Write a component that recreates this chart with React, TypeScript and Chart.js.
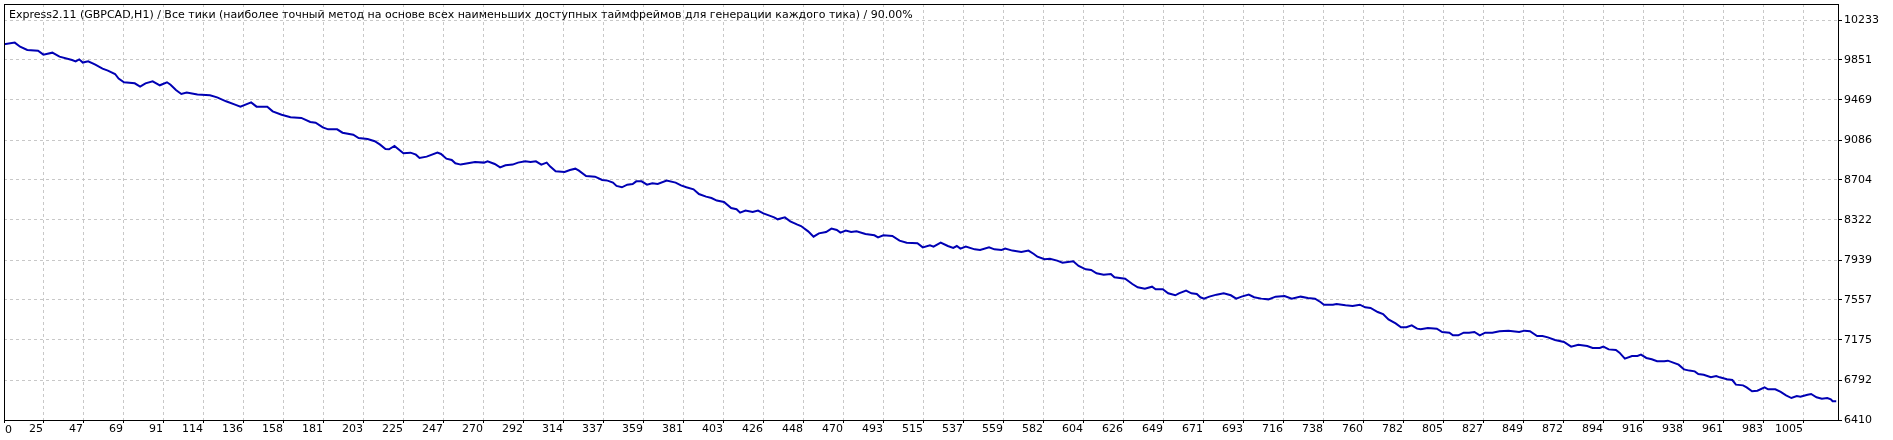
import React, { useEffect, useRef } from "react";
import { Chart, registerables } from "chart.js";

Chart.register(...registerables);

const titleText =
  "Express2.11 (GBPCAD,H1) / Все тики (наиболее точный метод на основе всех наименьших доступных таймфреймов для генерации каждого тика) / 90.00%";

const xTickLabels = [
  "0", "25", "47", "69", "91", "114", "136", "158", "181", "203", "225", "247",
  "270", "292", "314", "337", "359", "381", "403", "426", "448", "470", "493",
  "515", "537", "559", "582", "604", "626", "649", "671", "693", "716", "738",
  "760", "782", "805", "827", "849", "872", "894", "916", "938", "961", "983", "1005",
];

const yTickLabels = [
  "6410", "6792", "7175", "7557", "7939", "8322", "8704", "9086", "9469", "9851", "10233",
];

const tradeIndex = [
  0, 6, 9, 13, 19, 22, 27, 31, 38, 40, 42, 44, 47, 51, 55, 58, 62, 64, 67, 73, 76, 79,
  83, 87, 91, 93, 96, 99, 102, 108, 115, 119, 124, 129, 132, 138, 141, 147, 150, 155,
  160, 166, 171, 174, 178, 181, 186, 189, 195, 198, 203, 207, 210, 213, 215, 218, 223,
  227, 230, 232, 236, 242, 244, 247, 250, 252, 255, 259, 263, 268, 270, 274, 277, 280,
  284, 287, 291, 294, 297, 300, 303, 305, 308, 313, 316, 319, 321, 325, 330, 334, 337,
  340, 342, 345, 348, 351, 353,
  356, 359, 362, 365, 370, 375, 378, 381, 385, 388, 392, 395, 398, 402, 406, 409, 411,
  414, 418, 421, 424, 427, 430, 432, 436, 439, 443, 445, 449, 452, 455, 459, 462, 465,
  467, 470, 473, 476, 481, 486, 488, 491, 496, 500, 504, 510, 513, 517, 519, 523, 527,
  530, 532, 534, 537, 542, 545, 550, 553, 557, 559, 563, 568, 572, 575, 577, 581, 584,
  588, 591, 597, 600, 604, 607, 610, 614, 618, 620, 626, 630, 633, 637, 641, 643, 647,
  650, 654, 656, 660, 663, 666, 668, 670, 673, 677, 681, 685, 688, 691, 695, 698, 702,
  706, 710, 715, 719, 724, 728, 732, 735, 737, 742, 744, 749, 753, 757, 760, 763, 767,
  770, 773, 777, 780, 783, 786, 789, 791, 795, 800, 803, 807, 809, 812, 815, 818, 821,
  824, 827, 831, 835, 840, 846, 849, 852, 856, 859, 862, 866, 871, 875, 879, 884, 887,
  891, 893, 896, 900, 902, 905, 909, 912, 914, 917, 920, 923, 927, 929, 932, 935, 938,
  941, 944, 946, 949, 953, 956, 958, 962, 965, 967, 971, 973, 976, 979, 983, 985, 989,
  992, 995, 998, 1001, 1003, 1007, 1009, 1012, 1015, 1018, 1020, 1021, 1023,
];

const balance = [
  10000, 10017, 9978, 9947, 9940, 9902, 9921, 9883, 9851, 9838, 9857, 9826, 9838, 9806,
  9768, 9749, 9717, 9673, 9638, 9628, 9596, 9628, 9647, 9609, 9638, 9615, 9564, 9526,
  9539, 9520, 9513, 9494, 9456, 9424, 9405, 9446, 9405, 9405, 9360, 9328, 9303, 9297,
  9258, 9252, 9207, 9188, 9188, 9156, 9137, 9105, 9096, 9074, 9042, 9000, 8997, 9029,
  8959, 8965, 8946, 8914, 8927, 8965, 8953, 8908, 8895, 8863, 8851, 8863, 8876, 8870,
  8882, 8857, 8825, 8844, 8851, 8870, 8882, 8876, 8882, 8851, 8870, 8832, 8787, 8781,
  8800, 8812, 8793, 8742, 8736, 8704, 8698, 8679, 8647, 8634, 8659, 8666, 8691,
  8691, 8659, 8672, 8666, 8698, 8679, 8653, 8634, 8615, 8570, 8545, 8532, 8507, 8494,
  8436, 8424, 8392, 8411, 8398, 8411, 8385, 8366, 8347, 8328, 8347, 8309, 8277, 8264,
  8213, 8162, 8194, 8207, 8239, 8226, 8201, 8220, 8207, 8213, 8188, 8175, 8156, 8175,
  8169, 8124, 8105, 8099, 8060, 8080, 8067, 8105, 8073, 8054, 8073, 8048, 8067, 8041,
  8035, 8060, 8041, 8035, 8048, 8029, 8016, 8029, 7997, 7971, 7946, 7952, 7933, 7914,
  7927, 7882, 7850, 7844, 7812, 7799, 7806, 7774, 7761, 7710, 7678, 7665, 7684, 7659,
  7659, 7621, 7602, 7621, 7646, 7621, 7614, 7583, 7570, 7589, 7608, 7621, 7602, 7570,
  7589, 7608, 7583, 7570,
  7563, 7589, 7595, 7570, 7589, 7576, 7570, 7538, 7512, 7512, 7519, 7506, 7500, 7512,
  7487, 7481, 7442, 7423, 7372, 7334, 7296, 7296, 7315, 7283, 7277, 7289, 7283, 7251,
  7245, 7219, 7219, 7245, 7245, 7251, 7219, 7245, 7245, 7258, 7264, 7251, 7264, 7258,
  7213, 7213, 7200, 7175, 7156, 7111, 7130, 7117, 7098, 7098, 7111, 7085, 7079, 7054,
  6996, 7022, 7022, 7035, 7003, 6990, 6971, 6971, 6977, 6958, 6939, 6894, 6882, 6875,
  6850, 6843, 6818, 6831, 6818, 6799, 6792, 6748, 6741, 6722, 6684, 6690, 6722, 6703,
  6703, 6678, 6646, 6620, 6639, 6633, 6652, 6659, 6627, 6614, 6620, 6608, 6589, 6589,
];

const X_MAX = 1024;
const Y_MIN = 6410;
const Y_MAX = 10386;
const FONT_FAMILY = "'DejaVu Sans', sans-serif";
const FONT_SIZE = 11;
const GRID_COLOR = "#c8c8c8";
const LINE_COLOR = "#0000b4";

const xStep = Number(xTickLabels[xTickLabels.length - 1]) / (xTickLabels.length - 1);

const framePlugin = {
  id: "mtFrame",
  afterDraw(chart: any) {
    const { ctx, chartArea } = chart;
    const { left, top, right, bottom } = chartArea;
    ctx.save();
    ctx.strokeStyle = "#000";
    ctx.lineWidth = 1;
    ctx.strokeRect(left + 0.5, top + 0.5, right - left, bottom - top);
    ctx.fillStyle = "#000";
    ctx.font = `${FONT_SIZE}px ${FONT_FAMILY}`;
    ctx.textBaseline = "alphabetic";
    ctx.textAlign = "left";
    ctx.fillText(titleText, left + 5, top + 14);
    // first x label, left-aligned at the axis start
    const xs = chart.scales.x;
    const px = xs.getPixelForValue(0);
    ctx.textBaseline = "middle";
    ctx.fillText(xTickLabels[0], px + 1, bottom + 10);
    ctx.restore();
  },
};

export default function App() {
  const ref = useRef<HTMLCanvasElement | null>(null);

  useEffect(() => {
    document.body.style.margin = "0";
    const canvas = ref.current;
    if (!canvas) return;
    const points = tradeIndex.map((x, i) => ({ x, y: balance[i] }));
    const chart = new Chart(canvas, {
      type: "line",
      data: {
        datasets: [
          {
            data: points,
            borderColor: LINE_COLOR,
            borderWidth: 2,
            pointRadius: 0,
            tension: 0,
            fill: false,
          },
        ],
      },
      options: {
        animation: false,
        responsive: false,
        devicePixelRatio: 1,
        layout: { padding: { left: 4, top: 4, right: 0, bottom: 0 } },
        plugins: {
          legend: { display: false },
          tooltip: { enabled: false },
          title: { display: false },
        },
        scales: {
          x: {
            type: "linear",
            min: 0,
            max: X_MAX,
            afterBuildTicks: (s: any) => {
              s.ticks = xTickLabels.map((_, i) => ({ value: i * xStep }));
            },
            afterFit: (s: any) => {
              s.height = 20;
              s.paddingLeft = 0;
              s.paddingRight = 0;
              s.paddingTop = 0;
              s.paddingBottom = 0;
            },
            border: { display: false, dash: [3, 3] },
            grid: {
              color: GRID_COLOR,
              lineWidth: 1,
              tickLength: 3,
              tickColor: "#000",
              tickBorderDash: [],
            },
            ticks: {
              autoSkip: false,
              maxRotation: 0,
              minRotation: 0,
              align: "end",
              padding: 0,
              labelOffset: -1,
              color: "#000",
              font: { family: FONT_FAMILY, size: FONT_SIZE },
              callback: (_v: any, i: number) => (i === 0 ? "" : xTickLabels[i]),
            },
          },
          y: {
            type: "linear",
            position: "right",
            min: Y_MIN,
            max: Y_MAX,
            afterBuildTicks: (s: any) => {
              s.ticks = yTickLabels.map((l) => ({ value: Number(l) }));
            },
            afterFit: (s: any) => {
              s.width = 55;
              s.paddingLeft = 0;
              s.paddingRight = 0;
              s.paddingTop = 0;
              s.paddingBottom = 0;
            },
            border: { display: false, dash: [3, 3] },
            grid: {
              color: GRID_COLOR,
              lineWidth: 1,
              tickLength: 4,
              tickColor: "#000",
              tickBorderDash: [],
            },
            ticks: {
              autoSkip: false,
              padding: 2,
              color: "#000",
              font: { family: FONT_FAMILY, size: FONT_SIZE },
              callback: (_v: any, i: number) => yTickLabels[i],
            },
          },
        },
      },
      plugins: [framePlugin],
    });
    return () => chart.destroy();
  }, []);

  return (
    <div style={{ width: 1893, height: 440, background: "#fff" }}>
      <canvas ref={ref} width={1893} height={440} style={{ display: "block" }} />
    </div>
  );
}
